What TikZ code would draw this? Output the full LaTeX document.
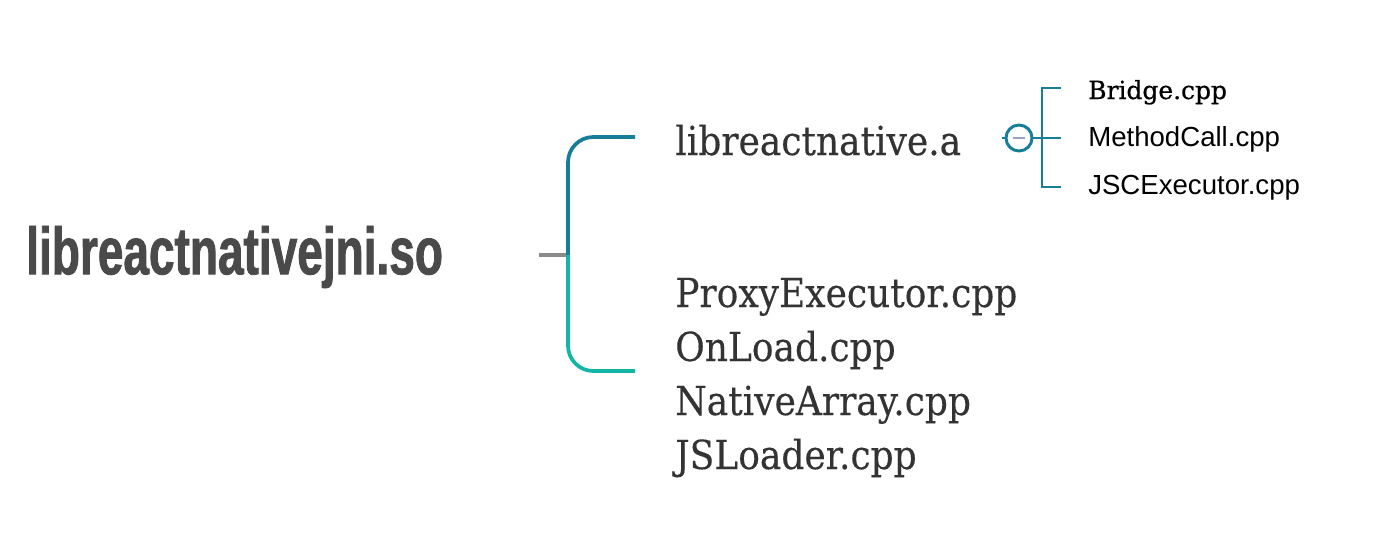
\documentclass[tikz,border=0pt]{standalone}
\usepackage{fontspec}
\newfontfamily\rootfont[FakeStretch=0.69,FakeBold=1.2]{Liberation Sans}
\newfontfamily\slabfont[FakeStretch=0.9,FakeBold=0.3]{DejaVu Serif}
\newfontfamily\smallslab[FakeBold=0.7]{DejaVu Serif}
\newfontfamily\smallsans{Liberation Sans}
\definecolor{topteal}{HTML}{177E99}
\definecolor{botteal}{HTML}{13B5A5}
\definecolor{stubgray}{HTML}{8A8A8A}
\definecolor{roottext}{HTML}{4A4A4A}
\definecolor{slabtext}{HTML}{333333}
\definecolor{minuscol}{HTML}{9AA0C8}
\begin{document}
\begin{tikzpicture}[x=0.75pt,y=-0.75pt,
  rootlabel/.style={inner sep=0pt,anchor=west,text=roottext,font=\rootfont\bfseries\fontsize{50}{60}\selectfont},
  biglabel/.style={inner sep=0pt,anchor=base west,text=slabtext,font=\slabfont\fontsize{30}{36}\selectfont},
  smalllabel/.style={inner sep=0pt,anchor=base west,text=black,font=\smallsans\fontsize{20.7}{24}\selectfont},
  bracketline/.style={line width=2.8pt},
  thinline/.style={line width=2.2pt,color=topteal}]
\useasboundingbox (0,0) rectangle (1378,536);
\node[rootlabel] (root) at (26,257) {libreactnativejni.so};
\coordinate (stubL) at (539,255);
\coordinate (fork) at (568,255);
\coordinate (topEnd) at (635,137);
\coordinate (botEnd) at (635,371);
\draw[stubgray,line width=2.4pt] (stubL) -- (fork);
\draw[bracketline,topteal,rounded corners=19pt] (fork) -- (568,137) -- (topEnd);
\draw[bracketline,botteal,rounded corners=19pt] (fork) -- (568,371) -- (botEnd);
\node[biglabel] (lib) at (675,155) {libreactnative.a};
\node[biglabel] (proxy) at (675,307) {ProxyExecutor.cpp};
\node[biglabel] (onload) at (675,361) {OnLoad.cpp};
\node[biglabel] (native) at (675,415) {NativeArray.cpp};
\node[biglabel] (jsl) at (675,469) {JSLoader.cpp};
% small branch
\node[circle,draw=topteal,line width=2.2pt,minimum size=19.5pt,inner sep=0pt] (fold) at (1019,138) {};
\draw[minuscol,line width=1.8pt] (1013,138) -- (1025,138);
\coordinate (foldL) at (1002,138);
\coordinate (sfork) at (1042,138);
\draw[thinline] (foldL) -- (fold.west);
\draw[thinline] (fold.east) -- (sfork);
\draw[thinline] (1061,88) -- (1042,88) -- (1042,187) -- (1061,187);
\draw[thinline] (sfork) -- (1061,138);
\node[smalllabel,font=\smallslab\fontsize{18.7}{22}\selectfont] (bridge) at (1088,99) {Bridge.cpp};
\node[smalllabel] (method) at (1088,146) {MethodCall.cpp};
\node[smalllabel] (jsc) at (1088,194) {JSCExecutor.cpp};
\end{tikzpicture}
\end{document}
